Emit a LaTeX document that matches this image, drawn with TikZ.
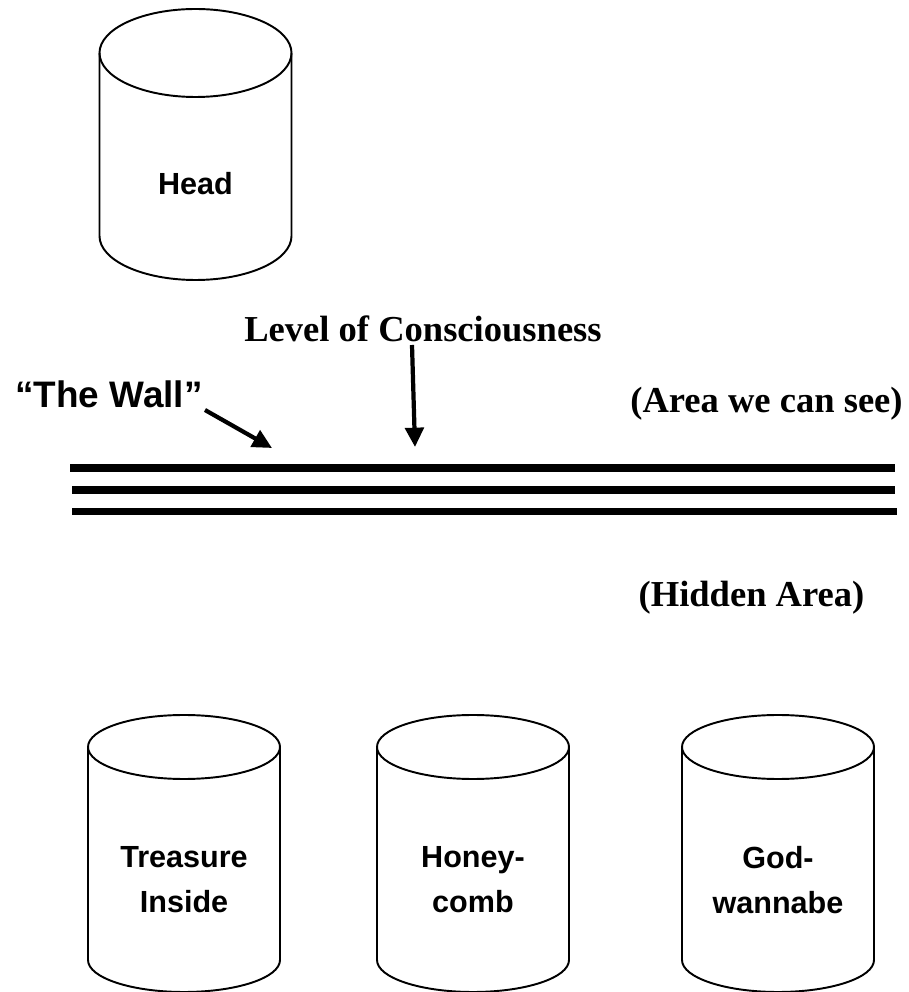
\documentclass[tikz,border=0pt]{standalone}
\usepackage{fontspec}
\newfontfamily\armfont{Liberation Sans}
\newfontfamily\timesfont{Liberation Serif}
\usetikzlibrary{arrows.meta}
\tikzset{
  drum/.style={line width=1.1pt},
  drumtext/.style={inner sep=0pt,align=center,font=\armfont\bfseries\fontsize{17.4}{25.6}\selectfont},
  serifnote/.style={inner sep=0pt,font=\timesfont\bfseries\fontsize{20.8}{24}\selectfont},
  wallline/.style={line width=4.3pt},
  pointer/.style={line width=2.4pt,-{Triangle[length=11pt,width=10.5pt]}}
}
\begin{document}
\begin{tikzpicture}[x=0.02cm,y=0.02cm]
  \useasboundingbox (0,0) rectangle (909,992);

  \foreach \cx/\ct/\cb/\ry in {195.5/939/756/44, 184/245/32/32, 473/245/32/32, 778/245/32/32} {
    \draw[drum] (\cx,\ct) ellipse [x radius=96, y radius=\ry];
    \draw[drum] (\cx-96,\ct) -- (\cx-96,\cb) arc [start angle=180, end angle=360, x radius=96, y radius=\ry] -- (\cx+96,\ct);
  }

  \node[drumtext,anchor=base] (head) at (195.5,797) {Head};
  \node[drumtext] (treasure) at (184,112) {Treasure\\Inside};
  \node[drumtext] (honeycomb) at (473,112) {Honey-\\comb};
  \node[drumtext] (godwannabe) at (778,112) {God-\\wannabe};

  \node[inner sep=0pt,anchor=base west,font=\armfont\bfseries\fontsize{21}{25}\selectfont] (wall) at (15,584) {“The Wall”};
  \node[serifnote,anchor=base] (level) at (423,650) {Level of Consciousness};
  \node[serifnote,anchor=base east] (seen) at (903,579) {(Area we can see)};
  \node[serifnote,anchor=base] (hidden) at (751.5,385) {(Hidden Area)};

  \coordinate (wallfrom) at (205,582);
  \coordinate (wallto) at (272,544);
  \coordinate (levelfrom) at (412,647);
  \coordinate (levelto) at (415,545);
  \draw[pointer] (wallfrom) -- (wallto);
  \draw[pointer] (levelfrom) -- (levelto);

  \draw[wallline] (70,524) -- (895,524);
  \draw[wallline] (72,502) -- (895,502);
  \draw[wallline] (72,480.5) -- (897,480.5);
\end{tikzpicture}
\end{document}
